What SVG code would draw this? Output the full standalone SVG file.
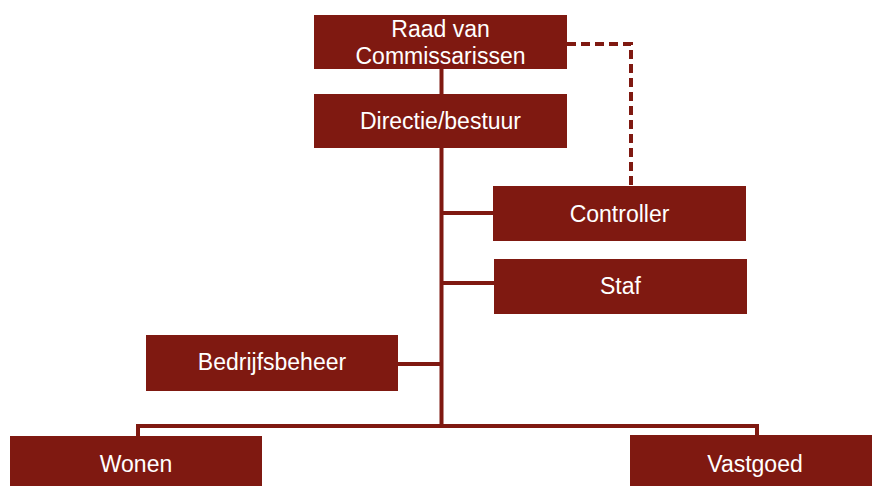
<svg xmlns="http://www.w3.org/2000/svg" width="872" height="486" viewBox="0 0 872 486">
<style>
.box{fill:#7F1911;}
.t{fill:#ffffff;font-family:"Liberation Sans",Arial,sans-serif;font-size:23px;text-anchor:middle;}
.ln{stroke:#7F1911;stroke-width:4;fill:none;}
.dash{stroke:#7F1911;stroke-width:4;fill:none;stroke-dasharray:9,5;}
</style>
<rect width="872" height="486" fill="#ffffff"/>
<g id="connectors">
<path class="ln" d="M441.5,69 V94"/>
<path class="ln" d="M441.5,148 V426"/>
<path class="ln" d="M441.5,213 H493"/>
<path class="ln" d="M441.5,283 H494"/>
<path class="ln" d="M398,364 H441.5"/>
<path class="ln" d="M138,436 V426 H757 V435"/>
<path class="dash" d="M567,44 H631 V186"/>
</g>
<g id="raad">
<rect class="box" x="314" y="15" width="253" height="54"/>
<text class="t" x="440.5" y="37">Raad van</text>
<text class="t" x="440.5" y="64">Commissarissen</text>
</g>
<g id="directie">
<rect class="box" x="314" y="94" width="253" height="54"/>
<text class="t" x="440.5" y="129">Directie/bestuur</text>
</g>
<g id="controller">
<rect class="box" x="493" y="186" width="253" height="55"/>
<text class="t" x="619.5" y="222">Controller</text>
</g>
<g id="staf">
<rect class="box" x="494" y="259" width="253" height="55"/>
<text class="t" x="620.5" y="294">Staf</text>
</g>
<g id="bedrijfsbeheer">
<rect class="box" x="146" y="335" width="252" height="56"/>
<text class="t" x="272" y="370">Bedrijfsbeheer</text>
</g>
<g id="wonen">
<rect class="box" x="10" y="436" width="252" height="55"/>
<text class="t" x="136" y="472">Wonen</text>
</g>
<g id="vastgoed">
<rect class="box" x="630" y="435" width="252" height="56"/>
<text class="t" x="755" y="472">Vastgoed</text>
</g>
</svg>
